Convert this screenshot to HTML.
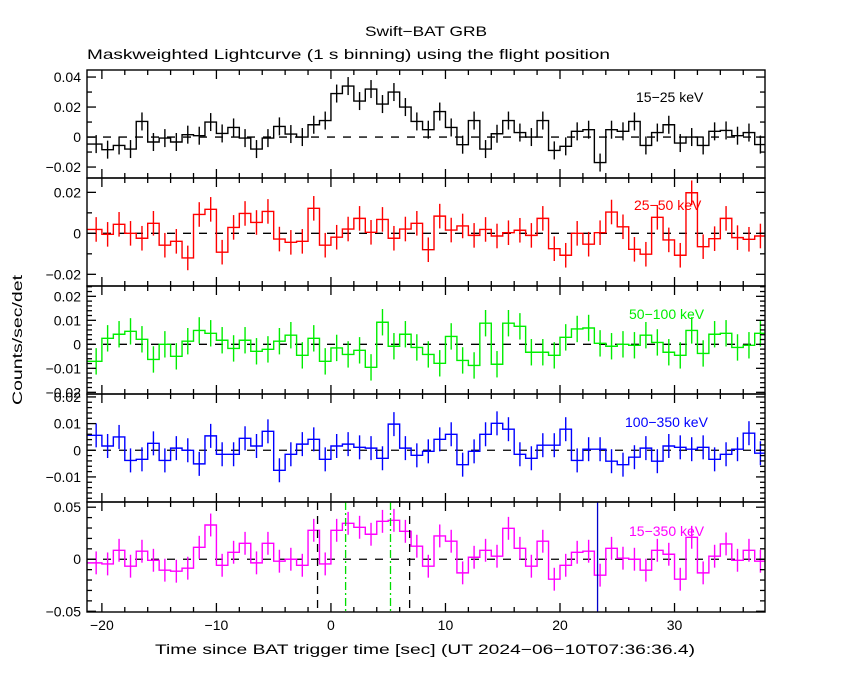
<!DOCTYPE html>
<html><head><meta charset="utf-8"><style>
html,body{margin:0;padding:0;background:#fff;}
svg text{font-family:"Liberation Sans",sans-serif;}
</style></head><body>
<svg id="chart" width="850" height="680" xmlns="http://www.w3.org/2000/svg">
<text x="365" y="36" textLength="122" lengthAdjust="spacingAndGlyphs" font-size="14">Swift−BAT GRB</text>
<text x="87" y="59" textLength="523" lengthAdjust="spacingAndGlyphs" font-size="14">Maskweighted Lightcurve (1 s binning) using the flight position</text>
<text transform="translate(22,405) rotate(-90)" textLength="130" lengthAdjust="spacingAndGlyphs" font-size="14">Counts/sec/det</text>
<text x="155" y="654" textLength="540" lengthAdjust="spacingAndGlyphs" font-size="14">Time since BAT trigger time [sec] (UT 2024−06−10T07:36:36.4)</text>
</svg>
<script>
// bin start times (s), 1 s bins
const binStarts = [-22,-21,-20,-19,-18,-17,-16,-15,-14,-13,-12,-11,-10,-9,-8,-7,-6,-5,-4,-3,-2,-1,0,1,2,3,4,5,6,7,8,9,10,11,12,13,14,15,16,17,18,19,20,21,22,23,24,25,26,27,28,29,30,31,32,33,34,35,36,37];
const rate15_25 = [-0.0047,-0.0047,-0.0084,-0.0056,-0.008,0.0104,-0.0033,-0.0007,-0.0033,0.0016,0.0009,0.01,0.0024,0.0064,-0.0007,-0.008,-0.0007,0.0071,0.002,0,0.0082,0.011,0.029,0.034,0.024,0.032,0.022,0.030,0.020,0.0104,0.0049,0.017,0.0064,-0.0051,0.011,-0.008,0.0022,0.011,0.003,0,0.011,-0.0089,-0.0062,0.0038,0.0049,-0.017,0.0049,0.0038,0.0104,-0.0056,0.003,0.0082,-0.004,0,-0.0056,0.0038,0.0044,0.0009,0.003,-0.005];
const rate25_50 = [0.0019,0.0019,-0.0005,0.0044,0,-0.0024,0.0049,-0.0058,-0.0039,-0.012,0.0092,0.0117,-0.0092,0.0029,0.0097,0.0053,0.0107,-0.0028,-0.0044,-0.0039,0.0122,-0.0058,-0.0019,0.0021,0.0073,0.0005,0.0068,-0.0024,0.0021,0.0049,-0.008,0.0084,0.0016,0.0036,-0.001,0.0019,-0.0013,0.0003,0.0015,-0.001,0.0073,-0.0075,-0.0107,0,-0.0053,0.0003,0.0104,0.0032,-0.0078,-0.0102,0.0078,-0.0032,-0.0107,0.0198,-0.0065,-0.0026,0.0073,-0.0021,-0.0029,-0.0013];
const rate50_100 = [-0.0071,-0.0071,0.0025,0.0042,0.0054,0.0021,-0.0063,0,-0.005,0.0013,0.0058,0.0046,0.0017,-0.0017,0.0017,-0.0029,-0.0021,0.0013,0.0038,-0.0046,0.0025,-0.0071,-0.0015,-0.0042,-0.0025,-0.0096,0.0092,-0.0008,0.0042,-0.0013,-0.0042,-0.0079,0.0033,-0.0067,-0.0088,0.0088,-0.0083,0.0088,0.0075,-0.0033,-0.0033,-0.0046,0.0029,0.0064,0.0068,0.0004,-0.0008,0,-0.0004,0.0038,0.0008,-0.0033,-0.0046,0.0058,-0.0038,0.0042,0.0046,-0.0013,-0.0004,0.0046];
const rate100_350 = [0.0056,0.0056,0.0016,0.005,-0.0038,-0.0034,0.0026,-0.0038,0.0008,0,-0.0051,0.0054,-0.0015,-0.0015,0.0045,0.0016,0.0071,-0.0075,-0.0015,0.0023,0.0041,-0.0034,0.0016,0.0023,0.0011,0.0008,-0.003,0.0098,0.0008,-0.0019,-0.0004,0.0041,0.006,-0.0054,-0.0004,0.006,0.0101,0.0079,-0.0015,-0.003,0.0019,0.0019,0.0079,-0.0038,0.0004,0.0004,-0.0041,-0.0054,-0.0026,0.0008,-0.0041,0.0016,0.0011,0.0004,0.0011,-0.0034,-0.0015,0.0004,0.0064,-0.0011];
const rate15_350 = [-0.0035,-0.0035,-0.0045,0.0086,-0.0067,0.0077,-0.001,-0.0105,-0.0115,-0.0086,0.0115,0.0329,-0.0058,0.0067,0.0153,-0.0035,0.0153,-0.0019,0,-0.0058,0.0278,-0.0045,0.0278,0.0345,0.0307,0.024,0.0364,0.0374,0.0268,0.0125,-0.0067,0.0224,0.0173,-0.0131,0.0019,0.0086,0.0029,0.0297,0.0105,-0.0067,0.0173,-0.0192,-0.0058,0.0067,0.0077,-0.0153,0.0105,0.001,0,-0.0105,0.0086,0.0048,-0.0192,0.0211,-0.0131,0.0029,0.0147,-0.001,0.0086,-0.0019];
const errors = [0.006, 0.006, 0.0055, 0.0045, 0.011];
const bandLabels = ["15−25 keV","25−50 keV","50−100 keV","100−350 keV","15−350 keV"];
const yTickLabels = [["0.04","0.02","0","−0.02"],["0.02","0","−0.02"],["0.02","0.01","0","−0.01","−0.02"],["0.02","0.01","0","−0.01"],["0.05","0","−0.05"]];
const yTickValues = [[0.04,0.02,0,-0.02],[0.02,0,-0.02],[0.02,0.01,0,-0.01,-0.02],[0.02,0.01,0,-0.01],[0.05,0,-0.05]];
const xTickValues = [-20,-10,0,10,20,30];
const xTickLabels = ["−20","−10","0","10","20","30"];
const markerTimes = [-1.17, 6.87];
const t90Times = [1.28, 5.2];
const triggerLine = [23.28];

const NS="http://www.w3.org/2000/svg";
const svg=document.getElementById('chart');
const X0=87,X1=765,T0=-21.3,T1=37.9;
const xs=t=>X0+(t-T0)*(X1-X0)/(T1-T0);
const panels=[
 {top:70,bot:178,ymax:0.0447,ymin:-0.0273,minor:0.01,color:'#000000',data:rate15_25,lx:636,ly:102},
 {top:178,bot:286,ymax:0.027,ymin:-0.0257,minor:0.01,color:'#ff0000',data:rate25_50,lx:634,ly:210},
 {top:286,bot:394,ymax:0.0243,ymin:-0.0207,minor:0.002,color:'#00ee00',data:rate50_100,lx:629,ly:319},
 {top:394,bot:502,ymax:0.0211,ymin:-0.0194,minor:0.002,color:'#0000ff',data:rate100_350,lx:625,ly:427},
 {top:502,bot:612,ymax:0.055,ymin:-0.0507,minor:0.01,color:'#ff00ff',data:rate15_350,lx:629,ly:536}
];
function mk(tag,attrs,parent){const e=document.createElementNS(NS,tag);for(const k in attrs)e.setAttribute(k,attrs[k]);(parent||svg).appendChild(e);return e;}
const defs=mk('defs',{});
panels.forEach((p,i)=>{
 const ys=v=>p.top+(p.ymax-v)*(p.bot-p.top)/(p.ymax-p.ymin);
 const cp=mk('clipPath',{id:'clip'+i},defs);
 mk('rect',{x:X0,y:p.top,width:X1-X0,height:p.bot-p.top},cp);
 const g=mk('g',{'clip-path':'url(#clip'+i+')'});
 
 
 const z=mk('line',{x1:X0,x2:X1,y1:ys(0),y2:ys(0),stroke:'#000','stroke-width':1.3,'stroke-dasharray':'8,8'},g);
 
 
 let d='';
 binStarts.forEach((t,j)=>{const y=ys(p.data[j]);d+=(j===0?'M':'L')+xs(t)+','+y+'L'+xs(t+1)+','+y;});
 const path=mk('path',{d:d,fill:'none',stroke:p.color,'stroke-width':1.4},g);
 
 
 binStarts.forEach((t,j)=>{
  const e=mk('line',{x1:xs(t+0.5),x2:xs(t+0.5),y1:ys(p.data[j]+errors[i]),y2:ys(p.data[j]-errors[i]),stroke:p.color,'stroke-width':1.4},g);
  
  
 });
 if(i===4){
  markerTimes.forEach(t=>{const l=mk('line',{x1:xs(t),x2:xs(t),y1:p.top,y2:p.bot,stroke:'#000','stroke-width':1.3,'stroke-dasharray':'8,6'},g);
   
   });
  t90Times.forEach(t=>{const l=mk('line',{x1:xs(t),x2:xs(t),y1:p.top,y2:p.bot,stroke:'#00dd00','stroke-width':1.3,'stroke-dasharray':'8,3,2,3'},g);
   
   });
  triggerLine.forEach(t=>{const l=mk('line',{x1:xs(t),x2:xs(t),y1:p.top,y2:p.bot,stroke:'#0000cc','stroke-width':1.3},g);
   
   });
 }
 const fr=mk('rect',{x:X0,y:p.top,width:X1-X0,height:p.bot-p.top,fill:'none',stroke:'#000','stroke-width':1.4});
 
 
 for(let t=-20;t<=36;t+=2){
  const major=(t%10===0);const L=major?9:5;
  mk('line',{x1:xs(t),x2:xs(t),y1:p.top,y2:p.top+L,stroke:'#000','stroke-width':1.3});
  mk('line',{x1:xs(t),x2:xs(t),y1:p.bot,y2:p.bot-L,stroke:'#000','stroke-width':1.3});
 }
 const n0=Math.ceil(p.ymin/p.minor-1e-6),n1=Math.floor(p.ymax/p.minor+1e-6);
 for(let n=n0;n<=n1;n++){
  const v=n*p.minor;const major=yTickValues[i].some(m=>Math.abs(m-v)<1e-9);const L=major?9:5;
  mk('line',{x1:X0,x2:X0+L,y1:ys(v),y2:ys(v),stroke:'#000','stroke-width':1.3});
  mk('line',{x1:X1,x2:X1-L,y1:ys(v),y2:ys(v),stroke:'#000','stroke-width':1.3});
 }
 yTickValues[i].forEach((v,k)=>{
  const tx=mk('text',{x:81,y:ys(v)+5,'text-anchor':'end','font-size':14});
  tx.textContent=yTickLabels[i][k];
  
  
 });
 const lb=mk('text',{x:p.lx,y:p.ly,'font-size':14,fill:p.color});
 lb.textContent=bandLabels[i];
 
 
});
xTickValues.forEach((t,k)=>{
 const tx=mk('text',{x:xs(t),y:630,'text-anchor':'middle','font-size':14});
 tx.textContent=xTickLabels[k];
 
 
});
</script>
</body></html>
